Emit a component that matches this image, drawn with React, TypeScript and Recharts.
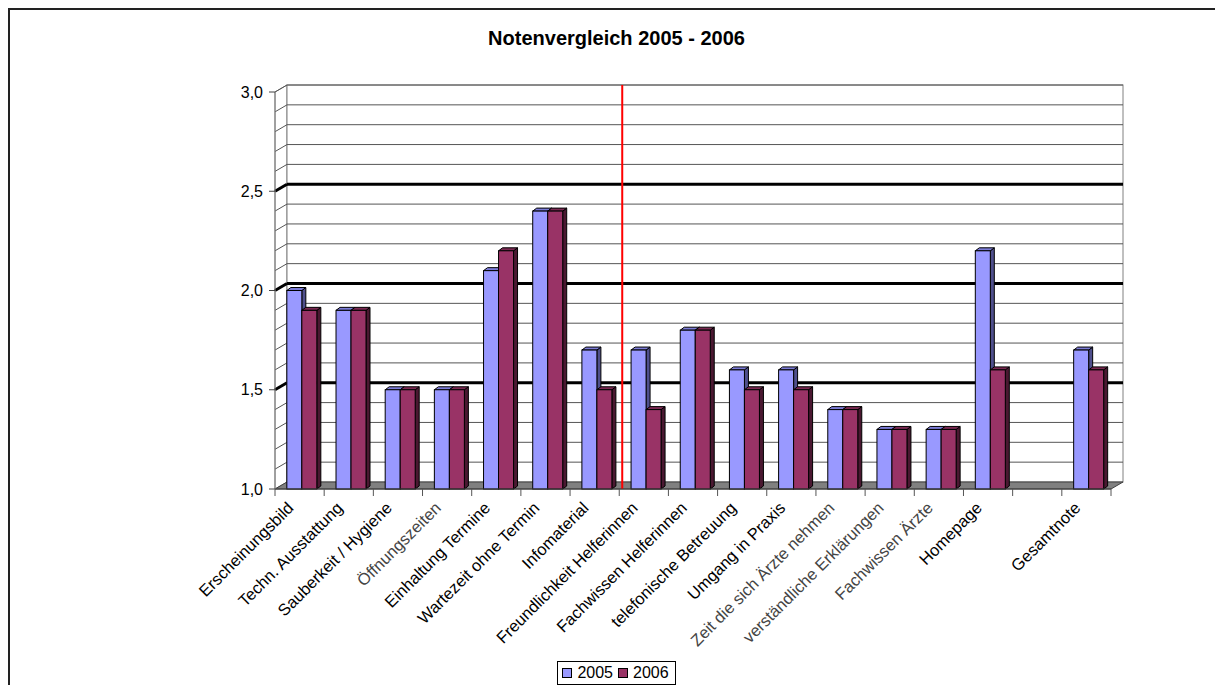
import React from "react";
import {
  BarChart,
  Bar,
  XAxis,
  YAxis,
  Legend,
  ReferenceLine,
  ReferenceArea,
} from "recharts";

const categories = [
  "Erscheinungsbild",
  "Techn. Ausstattung",
  "Sauberkeit / Hygiene",
  "Öffnungszeiten",
  "Einhaltung Termine",
  "Wartezeit ohne Termin",
  "Infomaterial",
  "Freundlichkeit Helferinnen",
  "Fachwissen Helferinnen",
  "telefonische Betreuung",
  "Umgang in Praxis",
  "Zeit die sich Ärzte nehmen",
  "verständliche Erklärungen",
  "Fachwissen Ärzte",
  "Homepage",
  "",
  "Gesamtnote",
];

const noten2005 = [2.0, 1.9, 1.5, 1.5, 2.1, 2.4, 1.7, 1.7, 1.8, 1.6, 1.6, 1.4, 1.3, 1.3, 2.2, null, 1.7];
const noten2006 = [1.9, 1.9, 1.5, 1.5, 2.2, 2.4, 1.5, 1.4, 1.8, 1.5, 1.5, 1.4, 1.3, 1.3, 1.6, null, 1.6];

const yTicks = [1.0, 1.5, 2.0, 2.5, 3.0];
const gridValues = [1.1, 1.2, 1.3, 1.4, 1.5, 1.6, 1.7, 1.8, 1.9, 2.0, 2.1, 2.2, 2.3, 2.4, 2.5, 2.6, 2.7, 2.8, 2.9, 3.0];
const majorGrid = [1.5, 2.0, 2.5];
const separatorAt = "Freundlichkeit Helferinnen";

const data = categories.map((name, i) => ({
  name,
  y2005: noten2005[i],
  y2006: noten2006[i],
}));

const FONT = "'Liberation Sans', Arial, sans-serif";
// 3D offset of back wall
const DX = 12;
const DY = 7;
// bar depth
const BX = 4;
const BY = 3;

const lightLabels = new Set([
  "Öffnungszeiten",
  "Zeit die sich Ärzte nehmen",
  "verständliche Erklärungen",
  "Fachwissen Ärzte",
]);

const series = [
  { key: "y2005", name: "2005", fill: "#9999FF", top: "#7b7bd6", side: "#4f4f8c" },
  { key: "y2006", name: "2006", fill: "#993366", top: "#7a2952", side: "#4a1831" },
];

function Bar3D(props: any) {
  const { x, y, width, height, value, colors } = props;
  if (value == null || !height || height <= 0) return null;
  const x0 = x + 2;
  const x1 = x0 + width;
  const yb = y + height;
  return (
    <g>
      <polygon
        points={`${x1},${y} ${x1 + BX},${y - BY} ${x1 + BX},${yb - BY} ${x1},${yb}`}
        fill={colors.side}
        stroke="#000"
        strokeWidth={1}
      />
      <polygon
        points={`${x0},${y} ${x0 + BX},${y - BY} ${x1 + BX},${y - BY} ${x1},${y}`}
        fill={colors.top}
        stroke="#000"
        strokeWidth={1}
      />
      <rect x={x0} y={y} width={width} height={height} fill={colors.fill} stroke="#000" strokeWidth={1} />
    </g>
  );
}

function Wall(props: any) {
  const { x, y, width, height } = props;
  return (
    <g>
      <polygon
        points={`${x},${y + height} ${x},${y} ${x + DX},${y - DY} ${x + DX},${y + height - DY}`}
        fill="#fff"
        stroke="#808080"
        strokeWidth={1}
      />
      <rect x={x + DX} y={y - DY} width={width} height={height} fill="#fff" stroke="#808080" strokeWidth={1} />
    </g>
  );
}

function GridShape(props: any) {
  const { x1, x2, y1, major } = props;
  const sx = Math.min(x1, x2);
  const ex = Math.max(x1, x2);
  const stroke = major ? "#000" : "#555";
  const w = major ? 3 : 1;
  return (
    <g>
      <line x1={sx} y1={y1} x2={sx + DX} y2={y1 - DY} stroke={stroke} strokeWidth={w} />
      <line x1={sx + DX} y1={y1 - DY} x2={ex + DX} y2={y1 - DY} stroke={stroke} strokeWidth={w} />
    </g>
  );
}

function FloorShape(props: any) {
  const { x1, x2, y1 } = props;
  const sx = Math.min(x1, x2);
  const ex = Math.max(x1, x2);
  return (
    <polygon
      points={`${sx},${y1} ${ex},${y1} ${ex + DX},${y1 - DY} ${sx + DX},${y1 - DY}`}
      fill="#808080"
      stroke="#404040"
      strokeWidth={1}
    />
  );
}

function SeparatorShape(props: any) {
  const { x1, y1, y2 } = props;
  const top = Math.min(y1, y2);
  const bottom = Math.max(y1, y2);
  return <line x1={x1 + 3} y1={top - DY} x2={x1 + 3} y2={bottom} stroke="#ff0000" strokeWidth={2} />;
}

function CategoryTick(props: any) {
  const { x, y, payload, index } = props;
  const half = payload && payload.offset ? payload.offset : 24.6;
  const label = payload ? payload.value : "";
  const ax = x - 5;
  const ay = y + 20;
  const last = index === categories.length - 1;
  return (
    <g>
      <line x1={x - half} y1={y} x2={x - half} y2={y + 7} stroke="#555" strokeWidth={1} />
      {last && <line x1={x + half} y1={y} x2={x + half} y2={y + 7} stroke="#555" strokeWidth={1} />}
      <text
        x={ax}
        y={ay}
        transform={`rotate(-45, ${ax}, ${ay})`}
        textAnchor="end"
        fontSize={16.5}
        fontFamily={FONT}
        fill={lightLabels.has(label) ? "#444" : "#000"}
      >
        {label}
      </text>
    </g>
  );
}

function LegendBox() {
  return (
    <div style={{ display: "flex", justifyContent: "center", fontFamily: FONT }}>
      <div
        style={{
          display: "flex",
          alignItems: "center",
          border: "1px solid #000",
          padding: "1px 6px 1px 4px",
          background: "#fff",
          fontSize: 16,
          lineHeight: "20px",
        }}
      >
        {series.map((s, i) => (
          <span key={s.key} style={{ display: "flex", alignItems: "center", marginLeft: i ? 5 : 0 }}>
            <span
              style={{
                width: 8,
                height: 8,
                border: "1px solid #000",
                background: s.fill,
                marginRight: 5,
                display: "inline-block",
              }}
            />
            <span>{s.name}</span>
          </span>
        ))}
      </div>
    </div>
  );
}

export default function App() {
  return (
    <div
      style={{
        position: "relative",
        width: 1215,
        height: 677,
        borderTop: "2px solid #222",
        borderLeft: "2px solid #222",
        boxSizing: "border-box",
        fontFamily: FONT,
        background: "#fff",
      }}
    >
      <style>{"html,body{overflow:hidden}"}</style>
      <div
        style={{
          position: "absolute",
          top: 17,
          left: 0,
          width: 1213,
          textAlign: "center",
          fontSize: 20,
          fontWeight: "bold",
          zIndex: 2,
        }}
      >
        Notenvergleich 2005 - 2006
      </div>
      <BarChart
        width={1213}
        height={675}
        data={data}
        margin={{ top: 82, right: 112, bottom: 46, left: 215 }}
        barGap={0}
        barCategoryGap="20%"
      >
        <ReferenceArea y1={1} y2={3} shape={<Wall />} zIndex={-300} ifOverflow="visible" />
        {gridValues.map((v) => (
          <ReferenceLine
            key={v}
            y={v}
            zIndex={-250}
            ifOverflow="visible"
            shape={(p: any) => <GridShape {...p} major={majorGrid.includes(v)} />}
          />
        ))}
        <ReferenceLine y={1} zIndex={-200} ifOverflow="visible" shape={(p: any) => <FloorShape {...p} />} />
        <XAxis
          dataKey="name"
          interval={0}
          height={150}
          tickSize={0}
          tickMargin={0}
          tickLine={false}
          axisLine={{ stroke: "#404040" }}
          tick={<CategoryTick />}
        />
        <YAxis
          type="number"
          domain={[1, 3]}
          ticks={yTicks}
          interval={0}
          width={50}
          tickSize={6}
          tickMargin={6}
          axisLine={{ stroke: "#808080" }}
          tickLine={{ stroke: "#404040" }}
          tick={{ fontSize: 16, fill: "#000", fontFamily: FONT }}
          tickFormatter={(v: number) => v.toFixed(1).replace(".", ",")}
        />
        {series.map((s) => (
          <Bar
            key={s.key}
            dataKey={s.key}
            name={s.name}
            fill={s.fill}
            isAnimationActive={false}
            shape={(p: any) => <Bar3D {...p} colors={s} />}
          />
        ))}
        <ReferenceLine
          x={separatorAt}
          position="start"
          zIndex={350}
          ifOverflow="visible"
          shape={(p: any) => <SeparatorShape {...p} />}
        />
        <Legend
          verticalAlign="middle"
          align="center"
          content={() => <LegendBox />}
          wrapperStyle={{ position: "absolute", top: 651, left: 0, width: 1213 }}
        />
      </BarChart>
    </div>
  );
}
